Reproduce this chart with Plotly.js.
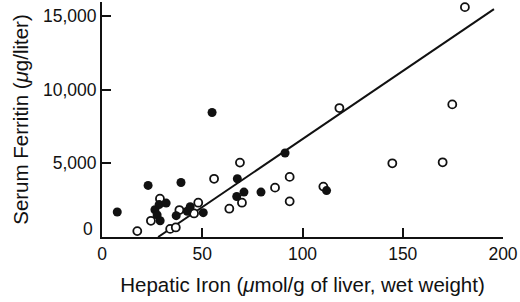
<!DOCTYPE html>
<html><head><meta charset="utf-8">
<script src="https://cdn.plot.ly/plotly-3.0.1.min.js"></script>
<style>html,body{margin:0;padding:0;background:#fff}#c{width:520px;height:302px}</style>
</head><body><div id="c"></div>
<script>
// Filled circles
const filledX = [7.6, 23, 26.4, 28.5, 32, 27.5, 29, 37, 39.4, 42.5, 44, 50.5, 54.9, 67.2, 67.5, 70.8, 79.3, 91.3, 112];
const filledY = [1700, 3500, 1850, 2200, 2300, 1500, 1100, 1450, 3700, 1750, 2050, 1650, 8450, 2750, 3950, 3050, 3050, 5700, 3150];
// Open circles
const openX = [17.6, 24.4, 28.9, 34, 36.8, 38.6, 45.9, 48, 55.9, 63.5, 68.8, 69.8, 86.3, 93.6, 93.6, 110.4, 118.4, 144.8, 169.9, 174.7, 181];
const openY = [400, 1100, 2600, 550, 650, 1830, 1600, 2330, 3950, 1920, 5050, 2330, 3350, 4080, 2420, 3420, 8750, 5000, 5070, 9000, 15600];
// Regression line end points
const lineX = [28, 195.5];
const lineY = [0, 15470];
// Ticks
const xTicks = [0, 50, 100, 150, 200];
const yTicks = [0, 5000, 10000, 15000];
const yTickText = ['', '5,000', '10,000', '15,000'];

const ink = '#111';
const fam = 'Liberation Sans, Arial, sans-serif';

const traces = [
  {x: lineX, y: lineY, mode: 'lines', line: {color: ink, width: 2}, hoverinfo: 'skip'},
  {x: openX, y: openY, mode: 'markers', marker: {symbol: 'circle', size: 8, color: '#fff', line: {color: ink, width: 1.8}}},
  {x: filledX, y: filledY, mode: 'markers', marker: {symbol: 'circle', size: 9, color: ink, line: {color: ink, width: 0}}}
];

const layout = {
  width: 520, height: 302,
  margin: {l: 102, r: 17, t: 2, b: 65},
  paper_bgcolor: '#fff', plot_bgcolor: '#fff',
  showlegend: false,
  font: {family: fam, color: ink},
  xaxis: {
    range: [0, 200], tickvals: xTicks, ticks: 'inside', ticklen: 9, tickwidth: 2, tickcolor: ink,
    showline: true, linewidth: 2, linecolor: ink, showgrid: false, zeroline: false,
    tickfont: {family: fam, size: 17.5, color: ink},
    title: {text: 'Hepatic Iron (<i>μ</i>mol/g of liver, wet weight)', font: {family: fam, size: 20.5, color: ink}, standoff: 15}
  },
  yaxis: {
    range: [0, 15950], tickvals: yTicks, ticktext: yTickText, ticks: 'inside', ticklen: 9, tickwidth: 2, tickcolor: ink,
    showline: true, linewidth: 2, linecolor: ink, showgrid: false, zeroline: false,
    tickfont: {family: fam, size: 17.5, color: ink},
    title: {text: 'Serum Ferritin (<i>μ</i>g/liter)', font: {family: fam, size: 20.5, color: ink}, standoff: 9}
  },
  annotations: [
    {text: '0', xref: 'paper', x: 0, yref: 'y', y: 0, xanchor: 'right', yanchor: 'middle', xshift: -7, yshift: 8, showarrow: false, font: {family: fam, size: 17.5, color: ink}}
  ]
};

Plotly.newPlot('c', traces, layout, {staticPlot: true, displayModeBar: false});
</script>
</body></html>
